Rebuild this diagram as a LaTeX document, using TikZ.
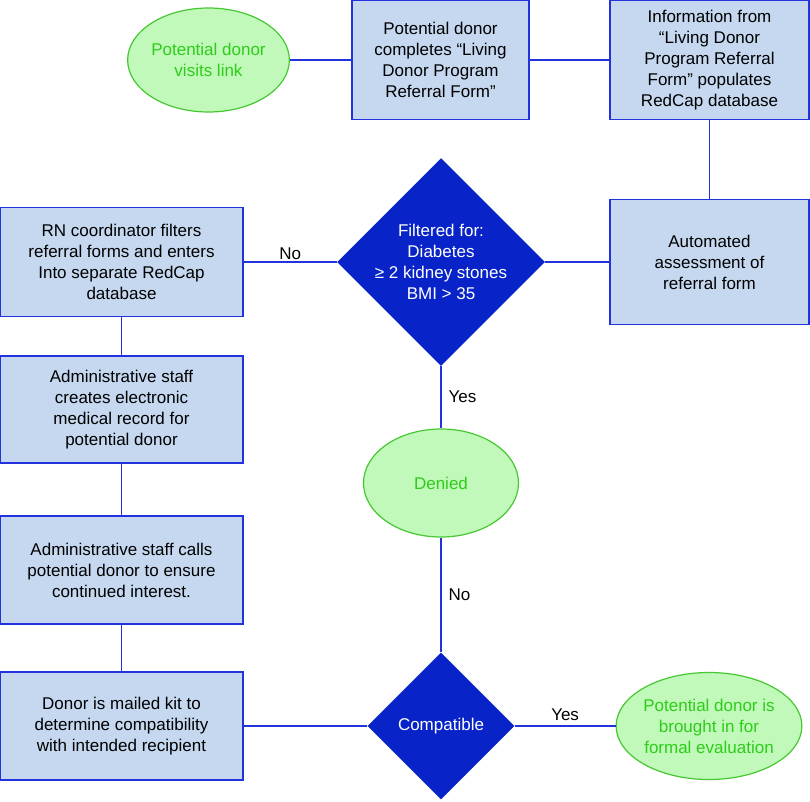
\documentclass[tikz,border=0pt]{standalone}
\usepackage{fontspec}
\setmainfont{Liberation Sans}
\usepackage{tikz}
\usetikzlibrary{positioning, shapes.geometric}
\definecolor{boxfill}{RGB}{197,216,240}
\definecolor{boxline}{RGB}{34,51,221}
\definecolor{dkblue}{RGB}{8,36,200}
\definecolor{gfill}{RGB}{192,249,185}
\definecolor{gline}{RGB}{70,200,50}
\definecolor{gtext}{RGB}{45,205,25}
\tikzstyle{stepbox}=[draw=boxline, fill=boxfill, shape=rectangle, line width=1.2pt, inner sep=0pt, align=center, font=\fontsize{17}{21}\selectfont]
\tikzstyle{endpt}=[draw=gline, fill=gfill, shape=ellipse, line width=1.2pt, inner sep=0pt, align=center, text=gtext, font=\fontsize{17}{21}\selectfont]
\tikzstyle{choice}=[fill=dkblue, shape=diamond, inner sep=0pt, align=center, text=white, font=\fontsize{17}{21}\selectfont]
\tikzstyle{link}=[draw=boxline, line width=1.2pt]
\tikzstyle{lbl}=[font=\fontsize{17}{21}\selectfont, inner sep=2pt]

\begin{document}
\begin{tikzpicture}[x=1pt, y=-1pt]
\useasboundingbox (0,0) rectangle (810,801);

% top row
\node[endpt, minimum width=155pt, minimum height=104pt] (visit) at (208.5, 60) {Potential donor\\visits link};
\node[stepbox, minimum width=177pt, minimum height=119pt] (form) at (440.5, 60) {Potential donor\\completes “Living\\Donor Program\\Referral Form”};
\node[stepbox, minimum width=199pt, minimum height=119pt] (info) at (709.5, 60) {Information from\\“Living Donor\\Program Referral\\Form” populates\\RedCap database};
\node[stepbox, minimum width=199pt, minimum height=125pt] (auto) at (709.5, 262) {Automated\\assessment of\\referral form};

% filter
\node[choice, minimum width=205pt, minimum height=203pt] (filt) at (441, 262) {Filtered for:\\Diabetes\\≥ 2 kidney stones\\BMI > 35};
\node[endpt, minimum width=155pt, minimum height=108pt] (denied) at (441, 483) {Denied};

% left column
\node[stepbox, minimum width=243pt, minimum height=109pt] (rn) at (121.5, 262) {RN coordinator filters\\referral forms and enters\\Into separate RedCap\\database};
\node[stepbox, minimum width=243pt, minimum height=107pt] (emr) at (121.5, 409.5) {Administrative staff\\creates electronic\\medical record for\\potential donor};
\node[stepbox, minimum width=243pt, minimum height=108pt] (call) at (121.5, 570) {Administrative staff calls\\potential donor to ensure\\continued interest.};
\node[stepbox, minimum width=243pt, minimum height=108pt] (kit) at (121.5, 726) {Donor is mailed kit to\\determine compatibility\\with intended recipient};

% bottom
\node[choice, minimum width=147pt, minimum height=147pt] (compat) at (441, 726) {Compatible};
\node[endpt, minimum width=176pt, minimum height=107pt] (eval) at (709, 726) {Potential donor is\\brought in for\\formal evaluation};

\draw[link] (visit) -- (form);
\draw[link] (form) -- (info);
\draw[link] (info) -- (auto);
\draw[link] (auto) -- (filt);
\draw[link] (filt) -- node[lbl, above] {No} (rn);
\draw[link] (filt) -- node[lbl, right=5pt] {Yes} (denied);
\draw[link] (denied) -- node[lbl, right=5pt] {No} (compat);
\draw[link] (compat) -- node[lbl, above=3pt] {Yes} (eval);
\draw[link] (compat) -- (kit);
\draw[link] (rn) -- (emr);
\draw[link] (emr) -- (call);
\draw[link] (call) -- (kit);
\end{tikzpicture}
\end{document}
